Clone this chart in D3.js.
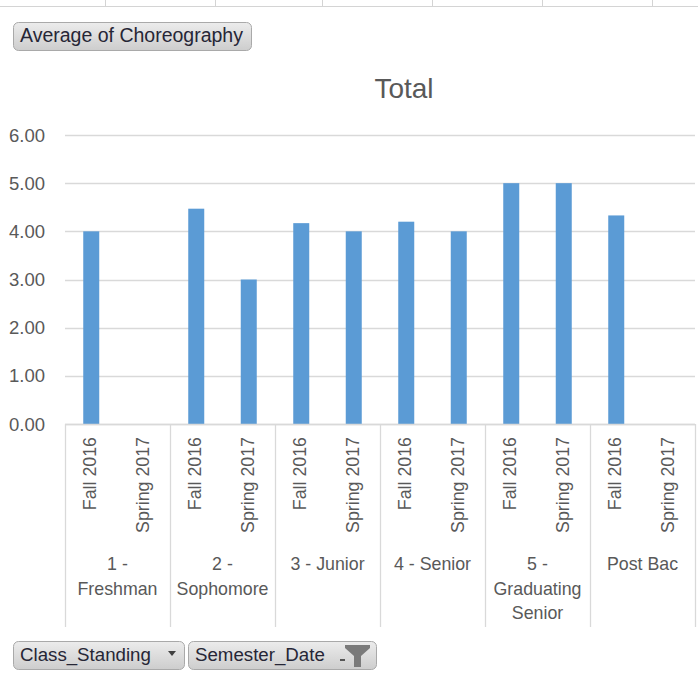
<!DOCTYPE html>
<html>
<head>
<meta charset="utf-8">
<script src="https://cdn.jsdelivr.net/npm/d3@7"></script>
<style>
  body { margin: 0; background: #fff; }
  svg { display: block; font-family: "Liberation Sans", Arial, sans-serif; }
</style>
</head>
<body>
<div id="chart"></div>
<script>
// data
const classStanding = ["1 - Freshman", "2 - Sophomore", "3 - Junior", "4 - Senior", "5 - Graduating Senior", "Post Bac"];
const classLabelLines = [["1 -", "Freshman"], ["2 -", "Sophomore"], ["3 - Junior"], ["4 - Senior"], ["5 -", "Graduating", "Senior"], ["Post Bac"]];
const semesters = ["Fall 2016", "Spring 2017"];
const fall2016 = [4.0, 4.47, 4.17, 4.2, 5.0, 4.33];
const spring2017 = [null, 3.0, 4.0, 4.0, 5.0, null];
const yTicks = [0, 1, 2, 3, 4, 5, 6];

let width = 698, height = 678;
let svg = d3.select('#chart').append('svg')
    .attr('width', width)
    .attr('height', height);

let defs = svg.append('defs');
let grad = defs.append('linearGradient').attr('id', 'btn').attr('x1', 0).attr('y1', 0).attr('x2', 0).attr('y2', 1);
grad.append('stop').attr('offset', '0%').attr('stop-color', '#ececec');
grad.append('stop').attr('offset', '100%').attr('stop-color', '#cdcdcd');

// spreadsheet cell lines at the very top
svg.append('line').attr('x1', 0).attr('x2', width).attr('y1', 6.5).attr('y2', 6.5)
    .style('stroke', '#d4d4d4');
[105, 215, 322, 432, 542, 652].forEach(function (x) {
    svg.append('line').attr('x1', x + 0.5).attr('x2', x + 0.5).attr('y1', 0).attr('y2', 6)
        .style('stroke', '#d4d4d4');
});

// pivot field buttons
function button(x, y, w, label, fs) {
    let g = svg.append('g').attr('transform', 'translate(' + x + ',' + y + ')');
    g.append('rect').attr('x', 0.5).attr('y', 0.5).attr('width', w).attr('height', 28)
        .attr('rx', 5).style('fill', 'url(#btn)').style('stroke', '#a9a9a9');
    g.append('text').attr('x', 7).attr('y', 20).text(label)
        .style('font-size', fs + 'px').style('fill', '#262636');
    return g;
}
button(13, 22, 238, 'Average of Choreography', 19.5);
let b1 = button(13, 641, 171, 'Class_Standing', 18.7);
b1.append('path').attr('d', 'M155,10 L163,10 L159,15 Z').style('fill', '#404040');
let b2 = button(188, 641, 188, 'Semester_Date', 18.7);
b2.append('path').attr('d', 'M157,4 L182,4 L182,7 L173,15 L173,26 L166,26 L166,15 L157,7 Z').style('fill', '#7a7a7a');
b2.append('rect').attr('x', 152).attr('y', 18).attr('width', 5).attr('height', 2).style('fill', '#555');

// title
svg.append('text').attr('x', 404).attr('y', 98).attr('text-anchor', 'middle')
    .text('Total').style('font-size', '28px').style('fill', '#595959');

// scales
let plotL = 65, plotR = 695, plotT = 135, plotB = 424;
let x0 = d3.scaleBand().domain(classStanding).range([plotL, plotR]);
let x1 = d3.scaleBand().domain(semesters).range([0, x0.bandwidth()]);
let y = d3.scaleLinear().domain([0, 6]).range([plotB, plotT]);
let barW = 16;

// gridlines + y labels
svg.selectAll('.grid').data(yTicks).enter().append('line')
    .attr('x1', plotL).attr('x2', plotR)
    .attr('y1', function (d) { return Math.round(y(d)) + 0.5; })
    .attr('y2', function (d) { return Math.round(y(d)) + 0.5; })
    .style('stroke', '#d9d9d9').style('stroke-width', 1.3);

svg.selectAll('.ylab').data(yTicks).enter().append('text')
    .attr('x', 45).attr('y', function (d) { return y(d); }).attr('dy', '0.36em')
    .attr('text-anchor', 'end')
    .text(function (d) { return d3.format('.2f')(d); })
    .style('font-size', '18.5px').style('fill', '#595959');

// bars
let rows = [];
classStanding.forEach(function (c, i) {
    rows.push({ cls: c, sem: semesters[0], v: fall2016[i] });
    rows.push({ cls: c, sem: semesters[1], v: spring2017[i] });
});

svg.selectAll('.bar').data(rows.filter(function (d) { return d.v != null; })).enter().append('rect')
    .attr('x', function (d) { return x0(d.cls) + x1(d.sem) + x1.bandwidth() / 2 - barW / 2; })
    .attr('y', function (d) { return y(d.v); })
    .attr('width', barW)
    .attr('height', function (d) { return y(0) - y(d.v); })
    .style('fill', '#5b9bd5');

// category axis
svg.append('line').attr('x1', plotL).attr('x2', plotR).attr('y1', plotB + 0.5).attr('y2', plotB + 0.5)
    .style('stroke', '#d9d9d9').style('stroke-width', 1.3);
let seps = classStanding.map(function (c) { return x0(c); }).concat([plotR]);
svg.selectAll('.sep').data(seps).enter().append('line')
    .attr('x1', function (d) { return Math.round(d) + 0.5; })
    .attr('x2', function (d) { return Math.round(d) + 0.5; })
    .attr('y1', plotB).attr('y2', 627)
    .style('stroke', '#d9d9d9').style('stroke-width', 1.3);

svg.selectAll('.semlab').data(rows).enter().append('text')
    .attr('transform', function (d) {
        return 'translate(' + (x0(d.cls) + x1(d.sem) + x1.bandwidth() / 2) + ',437) rotate(-90)';
    })
    .attr('y', 5)
    .attr('text-anchor', 'end')
    .text(function (d) { return d.sem; })
    .style('font-size', '17.8px').style('fill', '#595959');

classStanding.forEach(function (c, i) {
    let t = svg.append('text').attr('text-anchor', 'middle')
        .style('font-size', '17.8px').style('fill', '#595959');
    classLabelLines[i].forEach(function (line, j) {
        t.append('tspan').attr('x', x0(c) + x0.bandwidth() / 2).attr('y', 570 + j * 24.5).text(line);
    });
});
</script>
</body>
</html>
